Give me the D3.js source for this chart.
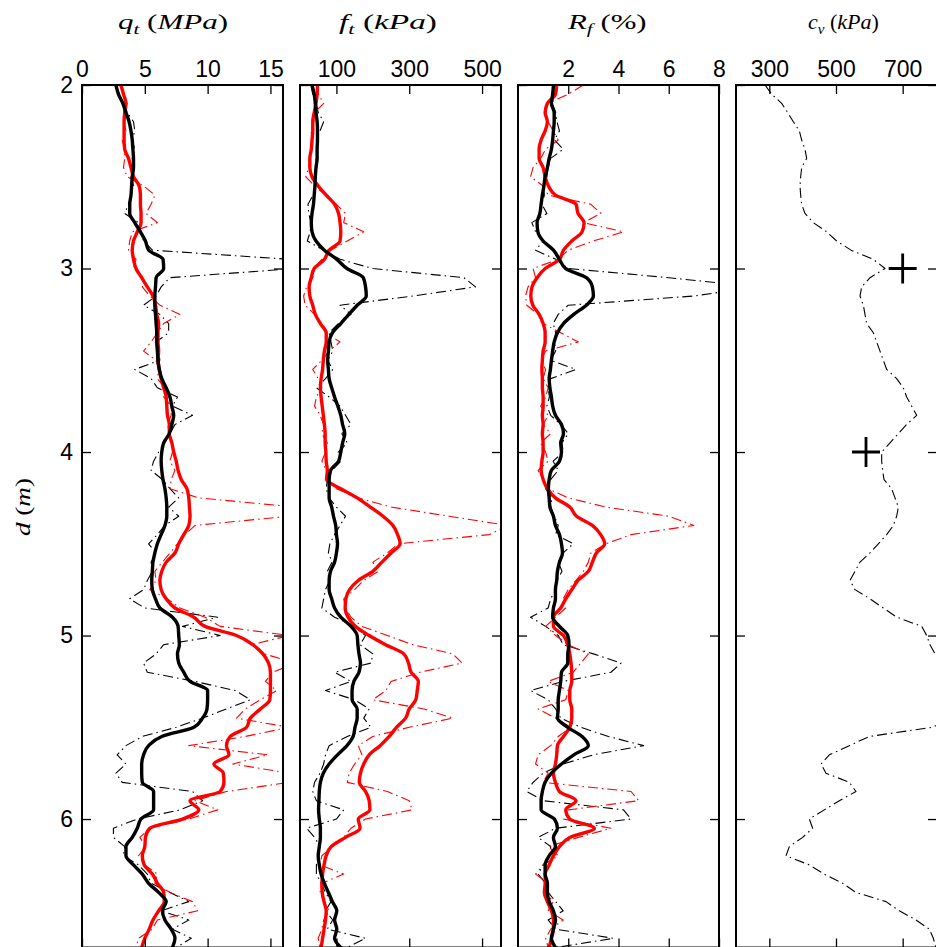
<!DOCTYPE html>
<html>
<head>
<meta charset="utf-8">
<script src="https://d3js.org/d3.v7.min.js"></script>
<style>
  body { margin: 0; background: #fff; }
  svg text { font-family: "Liberation Sans", Arial, sans-serif; }
  .tick text { font-size: 23px; fill: #000; }
  .tick line { stroke: #000; stroke-width: 1.3; }
  .title { font-family: "Liberation Serif", "DejaVu Serif", serif; font-size: 22px; }
</style>
</head>
<body>
<svg id="chart" width="936" height="947"></svg>
<script>
// depth grid (m)
var depth = [2.00, 2.05, 2.10, 2.15, 2.20, 2.25, 2.30, 2.35, 2.40, 2.45,
  2.50, 2.55, 2.60, 2.65, 2.70, 2.75, 2.80, 2.85, 2.90, 2.95,
  3.00, 3.05, 3.10, 3.15, 3.20, 3.25, 3.30, 3.35, 3.40, 3.45,
  3.50, 3.55, 3.60, 3.65, 3.70, 3.75, 3.80, 3.85, 3.90, 3.95,
  4.00, 4.05, 4.10, 4.15, 4.20, 4.25, 4.30, 4.35, 4.40, 4.45,
  4.50, 4.55, 4.60, 4.65, 4.70, 4.75, 4.80, 4.85, 4.90, 4.95,
  5.00, 5.05, 5.10, 5.15, 5.20, 5.25, 5.30, 5.35, 5.40, 5.45,
  5.50, 5.55, 5.60, 5.65, 5.70, 5.75, 5.80, 5.85, 5.90, 5.95,
  6.00, 6.05, 6.10, 6.15, 6.20, 6.25, 6.30, 6.35, 6.40, 6.45,
  6.50, 6.55, 6.60, 6.65, 6.70];
var depthDomain = [2, 6.7];
var depthTicks = [2, 3, 4, 5, 6];

// q_t (MPa)
var qtBlack = [2.7, 2.9, 3.25, 3.5, 3.75, 3.9, 4.0, 4.05, 4.1, 4.1,
  4.0, 3.95, 3.9, 3.8, 3.8, 4.2, 4.65, 5.05, 5.3, 6.45,
  6.5, 5.9, 5.85, 5.8, 5.8, 5.85, 5.9, 5.95, 5.95, 6.0,
  6.05, 6.15, 6.35, 6.7, 7.0, 7.15, 7.3, 7.15, 6.95, 6.5,
  6.35, 6.3, 6.35, 6.45, 6.6, 6.7, 6.75, 6.75, 6.6, 6.3,
  6.0, 5.8, 5.65, 5.6, 5.55, 5.6, 5.85, 6.2, 7.2, 7.65,
  7.7, 7.75, 7.6, 7.7, 8.1, 8.6, 10.0, 10.0, 9.95, 9.6,
  8.9, 6.35, 5.3, 4.9, 4.75, 4.75, 4.8, 5.7, 5.7, 5.7,
  4.7, 4.4, 4.0, 3.5, 3.5, 4.1, 4.8, 5.3, 6.1, 6.7,
  6.4, 6.6, 7.1, 7.4, 7.2];
var qtRed = [3.1, 3.3, 3.5, 3.4, 3.35, 3.35, 3.35, 3.4, 3.7, 3.9,
  4.1, 4.55, 4.65, 4.65, 4.7, 4.7, 4.4, 4.1, 4.0, 4.1,
  4.3, 4.75, 5.2, 5.65, 5.85, 5.95, 6.1, 6.05, 6.05, 6.1,
  6.05, 6.15, 6.3, 6.5, 6.7, 6.75, 6.8, 6.95, 6.95, 7.15,
  7.3, 7.5, 7.65, 7.9, 8.35, 8.5, 8.55, 8.6, 8.5, 8.1,
  7.7, 7.4, 6.7, 6.35, 6.2, 6.3, 6.7, 7.4, 8.9, 9.8,
  12.3, 13.6, 14.4, 14.85, 15.0, 15.0, 15.0, 14.95, 14.2, 13.4,
  13.1, 11.8, 11.5, 11.7, 10.5, 11.25, 11.3, 11.0, 8.6, 9.3,
  8.0, 5.4, 5.05, 5.0, 4.8, 4.95, 5.6, 6.0, 6.5, 6.55,
  6.1, 5.65, 5.35, 5.0, 4.75];
var qtBlackRaw = [2.6, 3.0, 3.3, 3.6, 4.1, 4.2, 4.0, 4.2, 4.0, 4.1,
  3.9, 4.1, 3.9, 3.7, 3.4, 4.5, 4.7, 4.9, 5.6, 16.5,
  17.0, 7.0, 6.3, 5.9, 4.9, 6.2, 6.9, 6.9, 5.9, 6.1,
  6.2, 4.2, 5.5, 6.0, 7.6, 7.2, 8.8, 7.4, 7.0, 6.6,
  6.1, 5.7, 5.5, 6.4, 7.0, 7.7, 6.9, 7.7, 6.6, 6.0,
  5.3, 5.9, 5.5, 5.6, 5.2, 4.9, 3.8, 5.0, 10.8, 8.0,
  11.0, 6.5, 5.9, 4.9, 5.2, 9.0, 12.2, 13.4, 11.5, 9.6,
  7.5, 4.8, 3.5, 2.8, 3.5, 2.7, 3.2, 8.8, 9.6, 7.8,
  4.4, 2.5, 2.5, 3.4, 3.3, 4.5, 5.2, 5.5, 7.0, 8.5,
  6.3, 8.5, 7.2, 8.7, 7.5];
var qtRedRaw = [3.0, 3.4, 3.6, 3.3, 3.3, 3.5, 3.2, 3.4, 3.4, 3.3,
  3.6, 4.9, 5.8, 5.5, 5.1, 6.0, 4.0, 3.8, 3.7, 4.3,
  4.1, 4.9, 4.8, 5.4, 6.2, 7.8, 6.5, 6.0, 5.5, 4.9,
  5.9, 6.1, 6.0, 6.6, 6.5, 7.1, 7.1, 6.8, 7.0, 7.2,
  7.2, 7.0, 7.4, 7.1, 7.0, 9.3, 17.0, 16.5, 9.0, 8.2,
  7.6, 7.0, 6.4, 5.8, 5.9, 5.4, 6.8, 7.8, 9.8, 11.0,
  16.5, 13.5, 14.5, 17.0, 15.2, 14.6, 15.5, 14.2, 13.0, 12.3,
  16.5, 13.0, 8.5, 14.8, 12.0, 16.5, 16.5, 11.5, 9.0, 10.8,
  8.5, 5.4, 4.6, 5.1, 4.5, 5.0, 6.0, 5.8, 7.0, 8.8,
  9.2, 6.0, 5.6, 4.5, 4.3];

// f_t (kPa)
var ftBlack = [33, 39, 42, 44, 47, 48, 48, 47, 47, 44,
  42, 41, 39, 37, 33, 31, 33, 44, 67, 101,
  129, 174, 180, 182, 157, 134, 112, 89, 80, 78,
  76, 78, 80, 87, 95, 104, 112, 117, 123, 117,
  112, 106, 84, 80, 80, 80, 87, 92, 98, 100,
  103, 100, 95, 84, 80, 80, 87, 95, 112, 140,
  157, 159, 162, 166, 162, 148, 143, 143, 157, 157,
  151, 146, 129, 103, 80, 64, 56, 53, 52, 51,
  53, 56, 56, 53, 50, 53, 58, 67, 78, 89,
  101, 95, 101, 95, 112];
var ftRed = [48, 47, 44, 39, 35, 35, 33, 31, 27, 27,
  33, 50, 72, 95, 106, 110, 112, 110, 80, 67,
  39, 31, 25, 27, 35, 42, 56, 72, 72, 67,
  64, 62, 58, 56, 58, 61, 64, 67, 69, 69,
  71, 72, 75, 73, 112, 157, 193, 228, 255, 268,
  275, 250, 225, 200, 160, 136, 126, 124, 132, 152,
  190, 235, 285, 298, 305, 325, 322, 318, 300, 290,
  265, 245, 220, 190, 175, 166, 163, 180, 190, 192,
  160, 165, 125, 86, 72, 66, 62, 60, 61, 66,
  72, 70, 66, 62, 58];
var ftBlackRaw = [30, 35, 45, 50, 65, 55, 45, 48, 44, 46,
  40, 42, 36, 22, 24, 30, 28, 20, 65, 110,
  200, 450, 482, 310, 110, 140, 105, 80, 85, 90,
  76, 90, 70, 45, 80, 110, 125, 140, 115, 130,
  105, 112, 88, 75, 72, 80, 100, 125, 110, 95,
  82, 78, 88, 75, 82, 70, 65, 60, 95, 150,
  180, 165, 200, 195, 95, 140, 70, 150, 190, 175,
  195, 130, 80, 70, 65, 55, 40, 35, 45, 120,
  100, 18, 40, 55, 50, 45, 45, 58, 70, 85,
  70, 90, 75, 180, 130];
var ftRedRaw = [48, 50, 65, 40, 38, 30, 34, 30, 28, 24,
  16, 40, 70, 100, 125, 120, 175, 130, 85, 60,
  40, 35, 18, 10, 14, 40, 55, 70, 110, 80,
  60, 35, 50, 60, 45, 40, 55, 65, 60, 75,
  70, 60, 72, 80, 100, 160, 250, 410, 570, 520,
  270, 240, 200, 215, 175, 150, 120, 125, 140, 170,
  240, 310, 420, 445, 330, 250, 236, 200, 340, 420,
  300, 200, 160, 170, 150, 135, 130, 240, 300, 308,
  180, 140, 120, 90, 60, 55, 120, 60, 55, 65,
  80, 65, 60, 50, 55];

// R_f (%)
var rfBlack = [1.41, 1.38, 1.33, 1.44, 1.44, 1.41, 1.38, 1.33, 1.24, 1.17,
  1.08, 1.03, 0.97, 0.92, 0.87, 0.76, 0.79, 1.0, 1.41, 1.65,
  1.9, 2.72, 2.96, 3.0, 2.72, 2.22, 1.81, 1.57, 1.44, 1.38,
  1.33, 1.29, 1.24, 1.27, 1.33, 1.38, 1.49, 1.73, 1.81, 1.7,
  1.73, 1.65, 1.33, 1.24, 1.21, 1.24, 1.27, 1.41, 1.49, 1.65,
  1.73, 1.77, 1.65, 1.57, 1.54, 1.49, 1.49, 1.41, 1.38, 1.65,
  1.98, 2.03, 1.98, 1.98, 1.73, 1.7, 1.65, 1.6, 1.6, 1.57,
  1.98, 2.55, 2.8, 2.22, 1.73, 1.33, 1.08, 0.97, 0.92, 0.92,
  1.45, 1.57, 1.41, 1.49, 1.24, 1.08, 1.08, 1.17, 1.17, 1.24,
  1.41, 1.49, 1.41, 1.33, 1.49];
var rfRed = [1.54, 1.49, 1.17, 1.08, 1.17, 1.08, 0.92, 0.84, 0.84, 1.0,
  1.08, 1.21, 1.49, 2.31, 2.39, 2.63, 2.55, 2.14, 1.81, 1.65,
  1.08, 0.76, 0.56, 0.51, 0.59, 0.84, 1.0, 1.08, 1.08, 1.0,
  0.97, 0.95, 0.97, 0.97, 1.0, 1.0, 0.97, 1.0, 0.97, 1.0,
  1.0, 0.95, 0.92, 1.0, 1.17, 1.49, 2.06, 2.33, 2.96, 3.29,
  3.45, 3.12, 2.96, 2.8, 2.39, 2.14, 1.9, 1.7, 1.41, 1.41,
  1.81, 1.98, 2.06, 2.11, 2.14, 2.14, 2.06, 2.06, 2.14, 2.14,
  2.06, 1.81, 1.57, 1.54, 1.49, 1.41, 1.49, 1.65, 2.31, 1.9,
  2.06, 3.04, 2.06, 1.65, 1.41, 1.24, 1.08, 1.08, 1.05, 1.17,
  1.33, 1.41, 1.41, 1.33, 1.24];
var rfBlackRaw = [1.4, 1.45, 1.35, 1.5, 1.55, 1.65, 1.45, 1.8, 1.3, 1.2,
  1.15, 1.0, 1.05, 0.95, 1.15, 0.55, 0.7, 1.0, 0.7, 1.5,
  2.0, 6.0, 9.5, 7.0, 2.0, 1.6, 1.4, 1.5, 1.45, 1.5,
  1.3, 2.3, 1.3, 1.2, 1.25, 1.15, 1.3, 1.7, 2.0, 1.75,
  1.8, 1.4, 1.6, 1.3, 1.1, 1.35, 1.3, 1.45, 1.6, 1.5,
  2.2, 1.8, 1.6, 1.75, 1.55, 1.5, 1.3, 1.2, 0.5, 1.1,
  1.6, 1.8, 3.0, 4.1, 3.7, 1.8, 0.5, 1.2, 1.5, 1.7,
  2.5, 3.6, 5.0, 3.0, 1.8, 1.0, 0.6, 0.35, 1.0, 4.2,
  4.5, 1.5, 0.8, 1.3, 1.3, 1.0, 0.8, 1.1, 1.2, 1.5,
  1.8, 1.2, 1.5, 3.8, 1.5];
var rfRedRaw = [2.6, 2.0, 1.2, 1.1, 1.2, 1.4, 1.6, 1.1, 0.9, 0.6,
  0.5, 1.0, 1.2, 2.9, 3.3, 2.6, 4.2, 3.0, 2.0, 1.6,
  0.6, 0.7, 0.4, 0.3, 0.35, 0.8, 1.0, 1.7, 2.4, 1.1,
  0.9, 1.1, 1.0, 1.2, 1.1, 0.9, 1.2, 1.0, 1.3, 0.9,
  1.1, 1.2, 0.8, 1.0, 1.2, 2.0, 3.5, 6.0, 7.0, 4.5,
  3.5, 2.9, 2.8, 2.6, 2.3, 2.0, 1.8, 1.9, 1.5, 1.1,
  1.5, 2.0, 2.8, 2.5, 2.2, 1.2, 2.0, 1.9, 0.8, 1.5,
  2.1, 1.6, 1.3, 0.8, 0.7, 1.2, 1.0, 4.5, 4.8, 2.0,
  1.8, 3.7, 2.4, 1.2, 1.6, 1.0, 0.7, 1.2, 1.1, 1.4,
  1.2, 1.8, 1.3, 1.1, 1.2];

// c_v (kPa)
var cvRaw = [287, 307, 337, 355, 372, 390, 397, 407, 412, 397,
  394, 392, 394, 397, 407, 432, 472, 502, 545, 612,
  647, 602, 577, 572, 582, 587, 592, 612, 622, 632,
  642, 652, 682, 702, 712, 727, 742, 712, 687, 662,
  637, 637, 640, 644, 667, 677, 687, 682, 672, 652,
  627, 602, 572, 557, 542, 557, 602, 642, 682, 757,
  772, 782, 797, 830, 860, 880, 880, 870, 860, 845,
  790, 600, 540, 480, 455, 470, 540, 560, 510, 465,
  420, 430, 400, 360, 350, 420, 465, 520, 560, 650,
  690, 740, 780, 792, 800];
var cvPointDepth = [3.0, 4.0];
var cvPointValue = [700, 590];

// axis settings
var qtDomain = [0, 16], qtTicks = [0, 5, 10, 15];
var ftDomain = [0, 552], ftTicks = [100, 300, 500];
var rfDomain = [0, 8], rfTicks = [2, 4, 6, 8];
var cvDomain = [200, 803], cvTicks = [300, 500, 700];

var panelLeft = [82, 300, 518, 736],
    panelWidth = 201,
    plotTop = 85,
    plotBottom = 947.5,
    tickLen = 9;

var svg = d3.select("#chart");

var y = d3.scaleLinear().domain(depthDomain).range([plotTop, plotBottom]);

// title parts: [text, italic, subscript]
var panels = [
  {title: [["q", 1, 0], ["t", 1, 1], [" (", 0, 0], ["MPa", 1, 0], [")", 0, 0]], titleX: 118, titleW: 110,
   domain: qtDomain, ticks: qtTicks,
   lines: [{v: qtBlackRaw, raw: true, c: "#000"}, {v: qtRedRaw, raw: true, c: "#f00"},
           {v: qtRed, raw: false, c: "#f00"}, {v: qtBlack, raw: false, c: "#000"}]},
  {title: [["f", 1, 0], ["t", 1, 1], [" (", 0, 0], ["kPa", 1, 0], [")", 0, 0]], titleX: 339, titleW: 98,
   domain: ftDomain, ticks: ftTicks,
   lines: [{v: ftBlackRaw, raw: true, c: "#000"}, {v: ftRedRaw, raw: true, c: "#f00"},
           {v: ftRed, raw: false, c: "#f00"}, {v: ftBlack, raw: false, c: "#000"}]},
  {title: [["R", 1, 0], ["f", 1, 1], [" (%)", 0, 0]], titleX: 568, titleW: 80,
   domain: rfDomain, ticks: rfTicks,
   lines: [{v: rfBlackRaw, raw: true, c: "#000"}, {v: rfRedRaw, raw: true, c: "#f00"},
           {v: rfRed, raw: false, c: "#f00"}, {v: rfBlack, raw: false, c: "#000"}]},
  {title: [["c", 1, 0], ["v", 1, 1], [" (", 0, 0], ["kPa", 1, 0], [")", 0, 0]], titleX: 808, titleW: 71,
   domain: cvDomain, ticks: cvTicks,
   lines: [{v: cvRaw, raw: true, c: "#000"}]}
];

var defs = svg.append("defs");

function mathText(g, parts){
  var t = g.append("text").attr("class", "title");
  var shifted = false;
  parts.forEach(function(part){
    var ts = t.append("tspan")
        .text(part[0])
        .attr("font-style", part[1] ? "italic" : "normal");
    if (part[2]){
      ts.attr("font-size", "15px").attr("dy", 5);
      shifted = true;
    } else if (shifted){
      ts.attr("dy", -5);
      shifted = false;
    }
  });
  return t;
}

panels.forEach(function(p, i){
  var left = panelLeft[i],
      right = left + panelWidth;
  var x = d3.scaleLinear().domain(p.domain).range([left, right]);

  defs.append("clipPath").attr("id", "clip" + i)
    .append("rect")
      .attr("x", left).attr("y", plotTop)
      .attr("width", panelWidth).attr("height", plotBottom - plotTop);

  var plot = svg.append("g").attr("clip-path", "url(#clip" + i + ")");

  p.lines.forEach(function(s){
    var line = d3.line()
        .x(function(d, j){ return x(s.v[j]); })
        .y(function(d){ return y(d); })
        .curve(s.raw ? d3.curveLinear : d3.curveMonotoneY);

    plot.append("path")
        .datum(depth)
        .attr("d", line)
        .attr("fill", "none")
        .attr("stroke", s.c)
        .attr("stroke-width", s.raw ? 1.1 : 3.4)
        .attr("stroke-dasharray", s.raw ? "10,4,1.5,4" : null)
        .attr("stroke-linejoin", "round")
        .attr("stroke-linecap", s.raw ? "butt" : "round");
  });

  if (i == 3){
    plot.selectAll(".cv-point")
        .data(cvPointDepth)
      .enter().append("path")
        .attr("class", "cv-point")
        .attr("transform", function(d, j){ return "translate(" + x(cvPointValue[j]) + "," + y(d) + ")"; })
        .attr("d", "M-14,0H14M0,-15V15")
        .attr("stroke", "#000")
        .attr("stroke-width", 2.8)
        .attr("fill", "none");
  }

  // axes, ticks pointing inward
  var top = svg.append("g")
      .attr("transform", "translate(0," + plotTop + ")")
      .call(d3.axisTop(x).tickValues(p.ticks).tickSize(-tickLen).tickPadding(8));
  top.select(".domain").remove();
  top.attr("font-size", null).attr("font-family", null);

  var bottom = svg.append("g")
      .attr("transform", "translate(0," + plotBottom + ")")
      .call(d3.axisBottom(x).tickValues(p.ticks).tickSize(-tickLen).tickFormat(""));
  bottom.select(".domain").remove();

  var yl = svg.append("g")
      .attr("transform", "translate(" + left + ",0)")
      .call(d3.axisLeft(y).tickValues(depthTicks).tickSize(-tickLen).tickPadding(9)
        .tickFormat(i == 0 ? d3.format("d") : ""));
  yl.select(".domain").remove();
  yl.attr("font-size", null).attr("font-family", null);

  var yr = svg.append("g")
      .attr("transform", "translate(" + right + ",0)")
      .call(d3.axisRight(y).tickValues(depthTicks).tickSize(-tickLen).tickFormat(""));
  yr.select(".domain").remove();

  svg.append("rect")
      .attr("x", left).attr("y", plotTop)
      .attr("width", panelWidth).attr("height", plotBottom - plotTop)
      .attr("fill", "none")
      .attr("stroke", "#000")
      .attr("stroke-width", 2);

  // title, stretched sideways to the reference width
  var t = mathText(svg, p.title);
  var w = t.node().getBBox().width;
  t.attr("transform", "translate(" + p.titleX + ",29) scale(" + (p.titleW / w) + ",1)");
});

var yLabel = mathText(svg, [["d", 1, 0], [" (", 0, 0], ["m", 1, 0], [")", 0, 0]])
    .attr("text-anchor", "middle");
var yw = yLabel.node().getBBox().width;
yLabel.attr("transform", "translate(30,507) rotate(-90) scale(" + (58 / yw) + ",1)");
</script>
</body>
</html>
